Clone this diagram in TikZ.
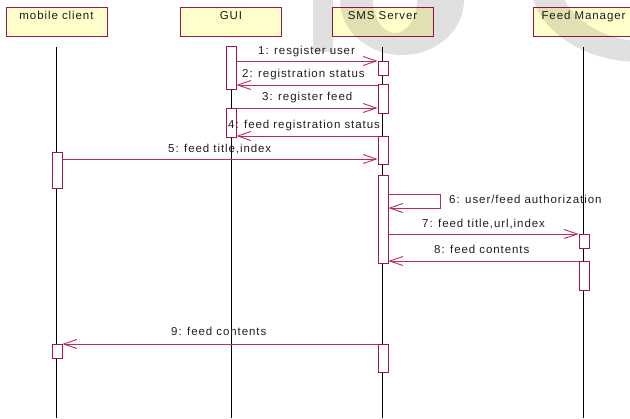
\documentclass[tikz,border=0pt]{standalone}
\usepackage{fontspec}
\setmainfont{Liberation Sans}[LetterSpace=8]
\usetikzlibrary{arrows.meta,calc}
\definecolor{umlred}{RGB}{165,20,70}
\definecolor{msgred}{RGB}{180,45,95}
\definecolor{headfill}{RGB}{255,255,204}
\definecolor{txt}{RGB}{30,30,30}
\begin{document}
\begin{tikzpicture}[x=1bp,y=-1bp,
  every node/.style={font=\fontsize{11.5bp}{13bp}\selectfont, text=txt},
  head/.style={draw=umlred, line width=0.9bp, fill=headfill, minimum width=101bp,
    inner xsep=0pt, inner ysep=0pt, text height=12.5bp, text depth=16.5bp, anchor=north},
  act/.style={draw=umlred, line width=0.9bp, fill=white, minimum width=10bp, inner sep=0pt, anchor=north},
  life/.style={line width=0.9bp, black},
  msg/.style={draw=msgred, line width=0.9bp, -{Straight Barb[length=13bp,width=9bp]}},
  lbl/.style={anchor=base west, inner sep=0pt},
  wm/.style={fill=black, fill opacity=0.12}
]
\useasboundingbox (0,0) rectangle (630,418);
\coordinate (bottom) at (0,418);

% heads
\node[head] (hm) at (56.5,7) {mobile client};
\node[head] (hg) at (231,7) {GUI};
\node[head] (hs) at (382.5,7) {SMS Server};
\node[head] (hf) at (583.5,7) {Feed Manager};

% lifelines
\foreach \h in {hm,hg,hs,hf}
  \draw[life] ([yshift=-10bp]\h.south) -- (\h.south |- bottom);

% activation boxes
\node[act, minimum height=43bp] (g1) at (231,46) {};
\node[act, minimum height=29bp] (g2) at (231,108) {};
\node[act, minimum height=14bp] (s1) at (383,61) {};
\node[act, minimum height=29bp] (s2) at (383,84) {};
\node[act, minimum height=28bp] (s3) at (383,136) {};
\node[act, minimum height=88bp] (s4) at (383,175) {};
\node[act, minimum height=28bp] (s5) at (383,344) {};
\node[act, minimum height=14bp] (f1) at (584,234) {};
\node[act, minimum height=29bp] (f2) at (584,261) {};
\node[act, minimum height=36bp] (m1) at (57,152) {};
\node[act, minimum height=14bp] (m2) at (57,344) {};

% message levels
\coordinate (y2) at (0,85);
\coordinate (y5) at (0,159);
\coordinate (y6a) at (0,194);
\coordinate (y6b) at (0,208);
\coordinate (y9) at (0,344);

% messages
\draw[msg] (g1.east |- s1.north) -- (s1.north west);
\node[lbl] (l1) at (258,54) {1: resgister user};
\draw[msg] (s2.west |- y2) -- (g1.east |- y2);
\node[lbl] (l2) at (242,77) {2: registration status};
\draw[msg] (g2.north east) -- (s2.west |- g2.north);
\node[lbl] (l3) at (262,100) {3: register feed};
\draw[msg] (s3.north west) -- (g2.east |- s3.north);
\node[lbl] (l4) at (228,128) {4: feed registration status};
\draw[msg] (m1.east |- y5) -- (s3.west |- y5);
\node[lbl] (l5) at (168,152) {5: feed title,index};
\draw[msg] (s4.east |- y6a) -- ++(52,0) -- ++(0,14) -- (s4.east |- y6b);
\node[lbl] (l6) at (449,203) {6: user/feed authorization};
\draw[msg] (s4.east |- f1.north) -- (f1.north west);
\node[lbl] (l7) at (422,227) {7: feed title,url,index};
\draw[msg] (f2.north west) -- (s4.east |- f2.north);
\node[lbl] (l8) at (434,253) {8: feed contents};
\draw[msg] (s5.west |- y9) -- (m2.east |- y9);
\node[lbl] (l9) at (171,335) {9: feed contents};

% watermark
\fill[wm] (313,0) rectangle (332.5,52);
\fill[wm, even odd rule] (402,0) ellipse [x radius=62, y radius=55] (395,0) ellipse [x radius=22, y radius=33];
\fill[wm, even odd rule] (640,-20) ellipse [x radius=110, y radius=82] (650,-20) ellipse [x radius=90, y radius=62];
\end{tikzpicture}
\end{document}
